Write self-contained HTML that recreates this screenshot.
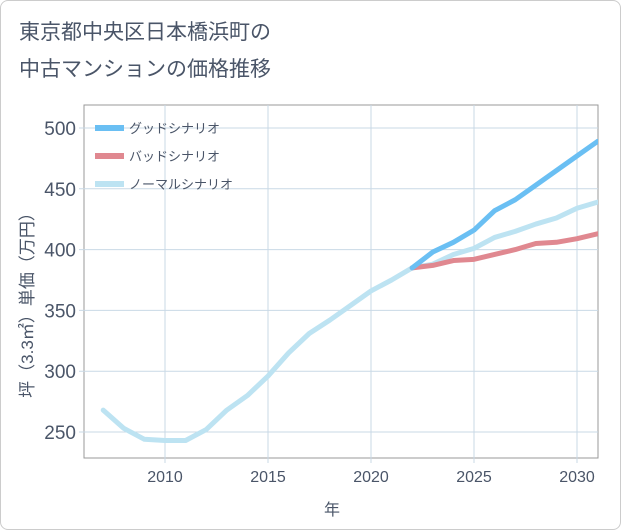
<!DOCTYPE html>
<html><head><meta charset="utf-8"><style>
body{margin:0;background:#fff;font-family:"Liberation Sans","Noto Sans CJK JP",sans-serif;}
#wrap{position:relative;width:619px;height:528px;border:1px solid #ccc;border-radius:8px;overflow:hidden;background:#fff}
</style></head><body>
<div id="wrap">
<svg id="chart" width="621" height="530">
<text x="18" y="38" font-size="21" fill="#4a5568">東京都中央区日本橋浜町の</text>
<text x="18" y="75" font-size="21" fill="#4a5568">中古マンションの価格推移</text>
<g id="grid"></g><g id="series"></g><g id="legend"></g>
<text x="331" y="514" font-size="16" fill="#4a5568" text-anchor="middle">年</text>
<text transform="translate(32,300) rotate(-90)" font-size="17" fill="#4a5568" text-anchor="middle">坪（3.3㎡）単価（万円）</text>
</svg></div>
<script>
const years=[2007,2008,2009,2010,2011,2012,2013,2014,2015,2016,2017,2018,2019,2020,2021,2022,2023,2024,2025,2026,2027,2028,2029,2030,2031];
const normal=[268,253,244,243,243,252,268,280,296,315,331,342,354,366,375,385,388,396,401,410,415,421,426,434,439];
const goodYears=[2022,2023,2024,2025,2026,2027,2028,2029,2030,2031];
const good=[385,398,406,416,432,441,453,465,477,489];
const bad=[385,387,391,392,396,400,405,406,409,413];
const xTicks=[2010,2015,2020,2025,2030];
const yTicks=[250,300,350,400,450,500];
const L=83,R=597,T=104,B=457;
const xs=y=>164+(y-2010)*20.6;
const ys=v=>127+(500-v)*1.216;
const NS='http://www.w3.org/2000/svg';
function mk(p,t,a){const e=document.createElementNS(NS,t);for(const k in a)e.setAttribute(k,a[k]);p.appendChild(e);return e;}
const g=document.getElementById('grid');
mk(g,'rect',{x:L,y:T,width:R-L,height:B-T,fill:'none',stroke:'#999'});
xTicks.forEach(t=>{const x=xs(t);
const l=mk(g,'line',{x1:x,x2:x,y1:T,y2:B+5,stroke:'#c9d9e6'});

const tx=mk(g,'text',{x:x,y:B+24,'font-size':16,fill:'#4a5568','text-anchor':'middle'});tx.textContent=t;
});
yTicks.forEach(t=>{const y=ys(t);
const l=mk(g,'line',{x1:L-5,x2:R,y1:y,y2:y,stroke:'#c9d9e6'});

const tx=mk(g,'text',{x:L-8,y:y+7,'font-size':19,fill:'#4a5568','text-anchor':'end'});tx.textContent=t;
});
const s=document.getElementById('series');
function line(xv,vals,col,name){const d=vals.map((v,i)=>(i?'L':'M')+xs(xv[i])+','+ys(v)).join('');
const p=mk(s,'path',{d:d,fill:'none',stroke:col,'stroke-width':5,'stroke-linejoin':'round','stroke-linecap':'round','clip-path':'url(#c)'});
}
const defs=mk(s,'defs',{});const cp=mk(defs,'clipPath',{id:'c'});mk(cp,'rect',{x:L,y:T,width:R-L,height:B-T});
line(years,normal,'#bde3f2','normal-scenario-line');
line(goodYears,bad,'#e08890','bad-scenario-line');
line(goodYears,good,'#6abff3','good-scenario-line');
const lg=document.getElementById('legend');
[['グッドシナリオ','#6abff3','legend-good'],['バッドシナリオ','#e08890','legend-bad'],['ノーマルシナリオ','#bde3f2','legend-normal']].forEach((e,i)=>{
const y=127+i*28;const gg=mk(lg,'g',{});

mk(gg,'rect',{x:94,y:y-3,width:29,height:6,fill:e[1]});
const t=mk(gg,'text',{x:128,y:y+5,'font-size':13,fill:'#4a5568'});t.textContent=e[0];});
</script></body></html>
